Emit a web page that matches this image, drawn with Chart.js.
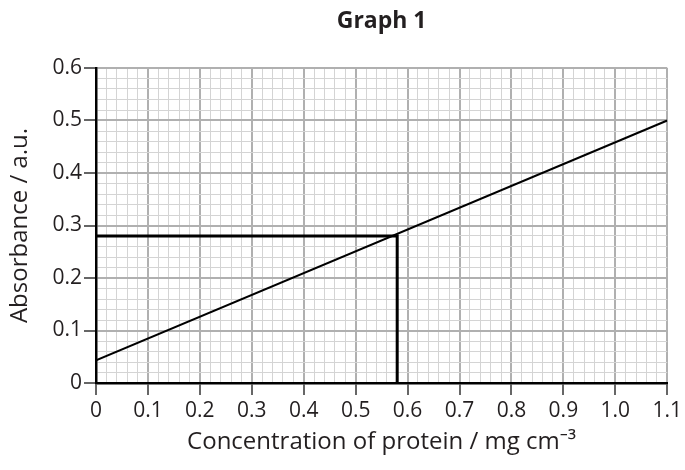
<!DOCTYPE html>
<html>
<head>
<meta charset="utf-8">
<script src="https://cdn.jsdelivr.net/npm/chart.js@4"></script>
<style>
  html, body { margin: 0; padding: 0; background: #fff; }
</style>
</head>
<body>
<canvas id="graph1" width="685" height="470"></canvas>
<script>
// values
const lineX = [0, 1.1];
const lineY = [0.043, 0.5];
const guideX = [0, 0.58, 0.58];
const guideY = [0.28, 0.28, 0];
const xTickLabels = ['0', '0.1', '0.2', '0.3', '0.4', '0.5', '0.6', '0.7', '0.8', '0.9', '1.0', '1.1'];
const yTickLabels = ['0', '0.1', '0.2', '0.3', '0.4', '0.5', '0.6'];

const textColor = '#231f20';
const fontFamily = '"Open Sans", "Noto Sans", sans-serif';

// graph paper: minor line every 0.02, major every 0.1
function paperTicks(max) {
    const n = Math.round(max * 50);
    const ticks = [];
    for (let i = 0; i <= n; i++) ticks.push({ value: i / 50 });
    return ticks;
}
const isMajor = v => Math.round(v * 50) % 5 === 0;

function gridOpts() {
    return {
        color: ctx => isMajor(ctx.tick.value) ? '#b0b0b0' : '#d4d4d4',
        lineWidth: ctx => isMajor(ctx.tick.value) ? 2 : 1,
        tickColor: ctx => isMajor(ctx.tick.value) ? '#333' : 'rgba(0,0,0,0)',
        tickWidth: 1.5,
        tickLength: 12,
        drawTicks: true,
    };
}

const titlePlugin = {
    id: 'graphTitle',
    afterDraw(chart) {
        const { ctx, chartArea } = chart;
        ctx.save();
        ctx.font = 'bold 23px ' + fontFamily;
        ctx.fillStyle = textColor;
        ctx.textAlign = 'center';
        ctx.textBaseline = 'middle';
        ctx.fillText('Graph 1', (chartArea.left + chartArea.right) / 2, 21);
        ctx.restore();
    }
};

const ctx = document.getElementById('graph1').getContext('2d');
new Chart(ctx, {
    type: 'scatter',
    data: {
        datasets: [
            {
                label: 'guide',
                data: guideX.map((x, i) => ({ x: x, y: guideY[i] })),
                showLine: true,
                borderColor: '#000',
                borderWidth: 3,
                pointRadius: 0,
                clip: false,
            },
            {
                label: 'absorbance',
                data: lineX.map((x, i) => ({ x: x, y: lineY[i] })),
                showLine: true,
                borderColor: '#000',
                borderWidth: 2,
                pointRadius: 0,
            },
        ],
    },
    options: {
        responsive: false,
        animation: false,
        layout: { padding: { top: 68, right: 15, bottom: 13, left: 6 } },
        plugins: {
            legend: { display: false },
            tooltip: { enabled: false },
        },
        scales: {
            x: {
                type: 'linear',
                min: 0,
                max: 1.1,
                afterBuildTicks: scale => { scale.ticks = paperTicks(1.1); },
                afterFit: scale => { scale.height = 74; },
                grid: gridOpts(),
                border: { display: true, color: '#000', width: 2.5 },
                ticks: {
                    autoSkip: false,
                    maxRotation: 0,
                    padding: 3,
                    color: textColor,
                    font: { family: fontFamily, size: 21 },
                    callback: (v, i) => isMajor(v) ? xTickLabels[Math.round(v * 10)] : '',
                },
                title: {
                    display: true,
                    text: 'Concentration of protein / mg cm\u207B\u00B3',
                    color: textColor,
                    font: { family: fontFamily, size: 24 },
                    padding: 0,
                },
            },
            y: {
                type: 'linear',
                min: 0,
                max: 0.6,
                afterBuildTicks: scale => { scale.ticks = paperTicks(0.6); },
                afterFit: scale => { scale.width = 90; },
                grid: gridOpts(),
                border: { display: true, color: '#000', width: 2.5 },
                ticks: {
                    autoSkip: false,
                    padding: 2,
                    color: textColor,
                    font: { family: fontFamily, size: 21 },
                    callback: (v, i) => isMajor(v) ? yTickLabels[Math.round(v * 10)] : '',
                },
                title: {
                    display: true,
                    text: 'Absorbance / a.u.',
                    color: textColor,
                    font: { family: fontFamily, size: 24 },
                    padding: 0,
                },
            },
        },
    },
    plugins: [titlePlugin],
});
</script>
</body>
</html>
